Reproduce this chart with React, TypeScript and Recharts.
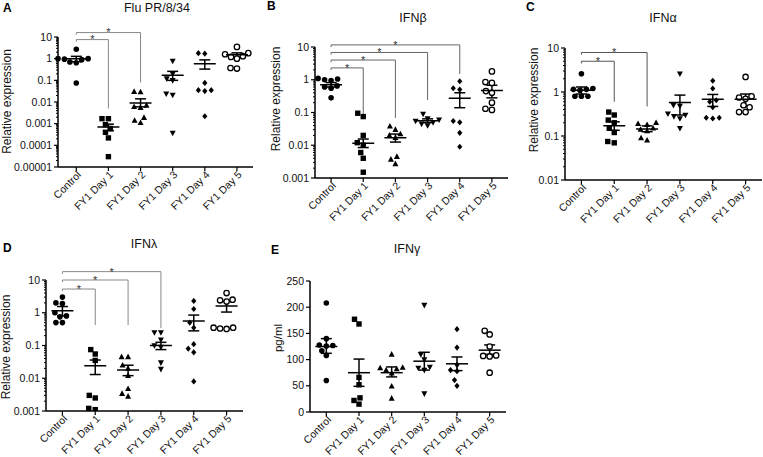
import React from "react";
import { ErrorBar, ReferenceLine, Scatter, ScatterChart, XAxis, YAxis } from "recharts";

const GROUPS = ["Control", "FY1 Day 1", "FY1 Day 2", "FY1 Day 3", "FY1 Day 4", "FY1 Day 5"];
const MARKERS = ["dot", "square", "triangle", "triangleDown", "diamond", "ring"];

// A - Flu PR/8/34, relative expression (log axis)
const FLU_POINTS = [
  [2.7, 1.0, 0.9, 1.0, 0.95, 0.65, 0.7, 0.075],
  [0.0017, 0.0017, 0.0009, 0.0006, 0.0004, 0.00022, 0.00003],
  [0.029, 0.03, 0.0055, 0.007, 0.006, 0.0011, 0.0019, 0.0014],
  [0.78, 0.2, 0.12, 0.1, 0.021, 0.024, 0.00037],
  [1.8, 1.7, 0.076, 0.032, 0.035, 0.035, 0.0022],
  [3.5, 1.8, 1.6, 1.3, 1.2, 1.0, 0.35, 0.37],
];
const FLU_MEAN = [1.0, 0.0007, 0.009, 0.17, 0.58, 1.5];
const FLU_LO = [0.72, 0.00047, 0.006, 0.1, 0.33, 1.15];
const FLU_HI = [1.28, 0.00095, 0.014, 0.26, 0.88, 1.85];
const FLU_TICKS = [0.00001, 0.0001, 0.001, 0.01, 0.1, 1, 10];
const FLU_TICK_LABELS = ["0.00001", "0.0001", "0.001", "0.01", "0.1", "1", "10"];
const FLU_SIG = [
  { to: 1, y: 7.6, end: 0.005 },
  { to: 2, y: 16, end: 0.08 },
];

// B - IFNβ
const IFNB_POINTS = [
  [1.1, 1.0, 1.05, 0.95, 0.6, 0.55, 0.65, 0.28],
  [0.095, 0.075, 0.02, 0.012, 0.01, 0.006, 0.004, 0.0015],
  [0.038, 0.03, 0.022, 0.02, 0.017, 0.0045, 0.0037, 0.0027],
  [0.09, 0.065, 0.06, 0.055, 0.05, 0.045, 0.04],
  [0.9, 0.5, 0.55, 0.05, 0.055, 0.024, 0.009],
  [1.8, 0.85, 0.8, 0.45, 0.4, 0.2, 0.13, 0.12],
];
const IFNB_MEAN = [0.7, 0.0115, 0.017, 0.056, 0.27, 0.47];
const IFNB_LO = [0.6, 0.0085, 0.0125, 0.049, 0.14, 0.28];
const IFNB_HI = [0.82, 0.0155, 0.022, 0.064, 0.4, 0.68];
const IFNB_TICKS = [0.001, 0.01, 0.1, 1, 10];
const IFNB_TICK_LABELS = ["0.001", "0.01", "0.1", "1", "10"];
const IFNB_SIG = [
  { to: 1, y: 2.3, end: 0.068 },
  { to: 2, y: 4, end: 0.068 },
  { to: 3, y: 6.8, end: 0.24 },
  { to: 4, y: 11.6, end: 1.5 },
];

// C - IFNα
const IFNA_POINTS = [
  [2.6, 1.15, 1.1, 1.15, 1.2, 0.8, 0.8, 0.8],
  [0.35, 0.3, 0.23, 0.2, 0.15, 0.12, 0.07, 0.075],
  [0.2, 0.19, 0.18, 0.15, 0.14, 0.13, 0.09, 0.08],
  [2.6, 0.5, 0.48, 0.3, 0.28, 0.32, 0.25, 0.15],
  [1.8, 1.2, 0.65, 0.6, 0.45, 0.26, 0.25, 0.26],
  [2.2, 0.8, 0.7, 0.75, 0.45, 0.5, 0.35, 0.35],
];
const IFNA_MEAN = [1.1, 0.17, 0.145, 0.58, 0.68, 0.68];
const IFNA_LO = [0.9, 0.135, 0.125, 0.3, 0.47, 0.48];
const IFNA_HI = [1.3, 0.21, 0.17, 0.85, 0.88, 0.9];
const IFNA_TICKS = [0.01, 0.1, 1, 10];
const IFNA_TICK_LABELS = ["0.01", "0.1", "1", "10"];
const IFNA_SIG = [
  { to: 1, y: 5, end: 0.6 },
  { to: 2, y: 7.9, end: 0.47 },
];

// D - IFNλ
const IFNL_POINTS = [
  [3.0, 2.0, 1.9, 1.0, 0.8, 0.75, 0.5, 0.5],
  [0.075, 0.055, 0.035, 0.0025, 0.003, 0.0011, 0.0012],
  [0.045, 0.045, 0.025, 0.02, 0.012, 0.0048, 0.0028, 0.0034],
  [0.25, 0.25, 0.15, 0.1, 0.09, 0.03, 0.019],
  [2.3, 1.3, 0.5, 0.35, 0.11, 0.08, 0.062, 0.008],
  [4.0, 2.5, 2.2, 2.4, 0.35, 0.32, 0.33, 0.35],
];
const IFNL_MEAN = [1.15, 0.024, 0.018, 0.1, 0.56, 1.6];
const IFNL_LO = [0.8, 0.013, 0.012, 0.075, 0.28, 1.05];
const IFNL_HI = [1.55, 0.036, 0.025, 0.125, 0.85, 2.2];
const IFNL_TICKS = [0.001, 0.01, 0.1, 1, 10];
const IFNL_TICK_LABELS = ["0.001", "0.01", "0.1", "1", "10"];
const IFNL_SIG = [
  { to: 1, y: 5.3, end: 0.42 },
  { to: 2, y: 10, end: 0.42 },
  { to: 3, y: 18, end: 0.34 },
];

// E - IFNγ, pg/ml (linear axis)
const IFNG_POINTS = [
  [208, 140, 128, 127, 126, 117, 108, 60],
  [168, 177, 66, 52, 27, 15, 22],
  [110, 84, 85, 82, 80, 74, 49, 26],
  [204, 110, 100, 86, 84, 80, 35],
  [158, 123, 90, 80, 78, 61, 50],
  [148, 155, 125, 107, 108, 106, 75],
];
const IFNG_MEAN = [125, 75, 75, 97, 92, 118];
const IFNG_LO = [112, 49, 67, 80, 79, 110];
const IFNG_HI = [140, 101, 86, 114, 105, 128];
const IFNG_TICKS = [0, 50, 100, 150, 200, 250];
const IFNG_TICK_LABELS = ["0", "50", "100", "150", "200", "250"];

const FONT = "'Liberation Sans', Arial, sans-serif";
const X_HEIGHT = 40;
const SWARM_GAP = 6.2;

function Marker({ kind, cx, cy }: { kind: string; cx: number; cy: number }) {
  switch (kind) {
    case "square":
      return <rect x={cx - 2.7} y={cy - 2.7} width={5.4} height={5.4} fill="#000" />;
    case "triangle":
      return <path d={`M${cx},${cy - 3.3}L${cx + 3},${cy + 2.3}L${cx - 3},${cy + 2.3}Z`} fill="#000" />;
    case "triangleDown":
      return <path d={`M${cx},${cy + 3.3}L${cx + 3},${cy - 2.3}L${cx - 3},${cy - 2.3}Z`} fill="#000" />;
    case "diamond":
      return <path d={`M${cx},${cy - 3.1}L${cx + 2.6},${cy}L${cx},${cy + 3.1}L${cx - 2.6},${cy}Z`} fill="#000" />;
    case "ring":
      return <circle cx={cx} cy={cy} r={2.7} fill="#fff" stroke="#000" strokeWidth={1.3} />;
    default:
      return <circle cx={cx} cy={cy} r={2.8} fill="#000" />;
  }
}

// simple beeswarm: px offsets for points at pixel heights px
function swarm(px: number[]): number[] {
  const order = px.map((_, i) => i).sort((a, b) => px[a] - px[b]);
  const placed: { x: number; y: number }[] = [];
  const out = new Array(px.length).fill(0);
  for (const i of order) {
    let best = 0;
    for (let k = 0; k < 120; k++) {
      const cand = (k % 2 ? -1 : 1) * Math.ceil(k / 2) * 0.5;
      if (placed.every((p) => (p.x - cand) ** 2 + (p.y - px[i]) ** 2 >= SWARM_GAP ** 2)) {
        best = cand;
        break;
      }
    }
    placed.push({ x: best, y: px[i] });
    out[i] = best;
  }
  return out;
}

function minorTicks(major: number[]) {
  const out: number[] = [];
  for (let i = 0; i < major.length - 1; i++) for (let k = 2; k <= 9; k++) out.push(major[i] * k);
  return out;
}

interface PanelProps {
  left: number;
  top: number;
  width: number;
  height: number;
  margin: { top: number; right: number; bottom: number; left: number };
  yWidth: number;
  log: boolean;
  ticks: number[];
  tickLabels: string[];
  points: number[][];
  mean: number[];
  lo: number[];
  hi: number[];
  sig?: { to: number; y: number; end: number }[];
  stub?: number;
  sigColor?: string;
}

function Panel(p: PanelProps) {
  const domain: [number, number] = [p.ticks[0], p.ticks[p.ticks.length - 1]];
  const plotW = p.width - p.margin.left - p.margin.right - p.yWidth;
  const plotH = p.height - p.margin.top - p.margin.bottom - X_HEIGHT;
  const toPx = p.log
    ? (v: number) =>
        ((Math.log10(v) - Math.log10(domain[0])) / (Math.log10(domain[1]) - Math.log10(domain[0]))) * plotH
    : (v: number) => ((v - domain[0]) / (domain[1] - domain[0])) * plotH;
  const pxPerCat = plotW / 6;

  const series = p.points.map((vals, g) => {
    const offs = swarm(vals.map(toPx));
    return vals.map((v, i) => ({ x: g + offs[i] / pxPerCat, y: v }));
  });
  const meanData = p.mean.map((m, g) => ({ x: g, y: m, err: [m - p.lo[g], p.hi[g] - m] }));
  const yTicks = p.log ? [...p.ticks, ...minorTicks(p.ticks)] : p.ticks;

  const YTick = (t: any) => {
    const ax = t.x + 6;
    const v = t.payload.value;
    const idx = p.ticks.findIndex((m) => Math.abs(m - v) <= Math.abs(m) * 1e-6 + 1e-12);
    if (idx < 0) {
      return <line x1={ax - 2} x2={ax} y1={t.y} y2={t.y} stroke="#000" strokeWidth={1} />;
    }
    return (
      <g>
        <line x1={ax - 4} x2={ax} y1={t.y} y2={t.y} stroke="#000" strokeWidth={1.2} />
        <text x={ax - 6} y={t.y} dy="0.35em" textAnchor="end" fontSize={10.5} fill="#111" fontFamily={FONT}>
          {p.tickLabels[idx]}
        </text>
      </g>
    );
  };

  const XTick = (t: any) => (
    <g transform={`translate(${t.x + 1},${t.y - 2}) rotate(-45)`} opacity={0.99}>
      <text x={0} y={0} dy="0.6em" textAnchor="end" fontSize={10.5} fill="#111" fontFamily={FONT}>
        {GROUPS[t.payload.value]}
      </text>
    </g>
  );

  const sigColor = p.sigColor || "#666";

  return (
    <div style={{ position: "absolute", left: p.left, top: p.top }}>
      <ScatterChart width={p.width} height={p.height} margin={p.margin}>
        <XAxis
          type="number"
          dataKey="x"
          domain={[-0.5, 5.5]}
          ticks={[0, 1, 2, 3, 4, 5]}
          interval={0}
          height={X_HEIGHT}
          axisLine={{ stroke: "#000", strokeWidth: 1.5 }}
          tickLine={{ stroke: "#000", strokeWidth: 1.2 }}
          tickSize={4}
          tick={XTick}
        />
        <YAxis
          type="number"
          dataKey="y"
          scale={p.log ? "log" : "linear"}
          domain={domain}
          allowDataOverflow
          ticks={yTicks}
          interval={0}
          width={p.yWidth}
          axisLine={{ stroke: "#000", strokeWidth: 1.5 }}
          tickLine={false}
          tickSize={4}
          tick={YTick}
        />
        {(p.sig || []).map((b, i) => (
          <ReferenceLine
            key={`h${i}`}
            segment={[
              { x: 0, y: b.y },
              { x: b.to, y: b.y },
            ]}
            stroke={sigColor}
            strokeWidth={1}
            ifOverflow="visible"
            label={{ value: "*", position: "center", fontSize: 11, fill: "#333" }}
          />
        ))}
        {(p.sig || []).map((b, i) => (
          <ReferenceLine
            key={`v${i}`}
            segment={[
              { x: b.to, y: b.y },
              { x: b.to, y: b.end },
            ]}
            stroke={sigColor}
            strokeWidth={1}
            ifOverflow="visible"
          />
        ))}
        {(p.sig || []).map((b, i) => (
          <ReferenceLine
            key={`s${i}`}
            segment={[
              { x: 0, y: b.y },
              { x: 0, y: b.y * (p.stub || 0.85) },
            ]}
            stroke={sigColor}
            strokeWidth={1}
            ifOverflow="visible"
          />
        ))}
        {series.map((data, g) => (
          <Scatter
            key={GROUPS[g]}
            name={GROUPS[g]}
            data={data}
            isAnimationActive={false}
            shape={(s: any) => <Marker kind={MARKERS[g]} cx={s.cx} cy={s.cy} />}
          />
        ))}
        <Scatter
          name="mean"
          data={meanData}
          isAnimationActive={false}
          shape={(s: any) => (
            <line x1={s.cx - 11} x2={s.cx + 11} y1={s.cy} y2={s.cy} stroke="#000" strokeWidth={1.5} />
          )}
        >
          <ErrorBar dataKey="err" direction="y" width={5.5} stroke="#000" strokeWidth={1.5} />
        </Scatter>
      </ScatterChart>
    </div>
  );
}

const TITLES = [
  { text: "Flu PR/8/34", x: 157, y: 12 },
  { text: "IFNβ", x: 413, y: 21.5 },
  { text: "IFNα", x: 663, y: 21.5 },
  { text: "IFNλ", x: 144, y: 248 },
  { text: "IFNγ", x: 407, y: 253 },
];
const LETTERS = [
  { text: "A", x: 3, y: 11.7 },
  { text: "B", x: 267, y: 10 },
  { text: "C", x: 526, y: 11 },
  { text: "D", x: 3, y: 252.3 },
  { text: "E", x: 271, y: 254 },
];
const Y_LABELS = [
  { text: "Relative expression", x: 10.5, y: 101.5 },
  { text: "Relative expression", x: 279.5, y: 99 },
  { text: "Relative expression", x: 538, y: 100 },
  { text: "Relative expression", x: 10.3, y: 347 },
  { text: "pg/ml", x: 282, y: 338 },
];

export default function App() {
  return (
    <div
      style={{
        position: "absolute",
        left: 0,
        top: 0,
        width: 763,
        height: 457,
        background: "#fff",
        fontFamily: FONT,
        overflow: "hidden",
      }}
    >
      <Panel
        left={0}
        top={0}
        width={260}
        height={228}
        margin={{ top: 37, right: 7, bottom: 21, left: 8 }}
        yWidth={50}
        log
        ticks={FLU_TICKS}
        tickLabels={FLU_TICK_LABELS}
        points={FLU_POINTS}
        mean={FLU_MEAN}
        lo={FLU_LO}
        hi={FLU_HI}
        sig={FLU_SIG}
        stub={0.8}
        sigColor="#888"
      />
      <Panel
        left={265}
        top={0}
        width={250}
        height={228}
        margin={{ top: 47, right: 7, bottom: 10, left: 0 }}
        yWidth={50}
        log
        ticks={IFNB_TICKS}
        tickLabels={IFNB_TICK_LABELS}
        points={IFNB_POINTS}
        mean={IFNB_MEAN}
        lo={IFNB_LO}
        hi={IFNB_HI}
        sig={IFNB_SIG}
        stub={0.86}
      />
      <Panel
        left={515}
        top={0}
        width={248}
        height={228}
        margin={{ top: 48, right: 1, bottom: 8, left: 0 }}
        yWidth={50}
        log
        ticks={IFNA_TICKS}
        tickLabels={IFNA_TICK_LABELS}
        points={IFNA_POINTS}
        mean={IFNA_MEAN}
        lo={IFNA_LO}
        hi={IFNA_HI}
        sig={IFNA_SIG}
        stub={0.89}
        sigColor="#555"
      />
      <Panel
        left={0}
        top={228}
        width={250}
        height={229}
        margin={{ top: 52, right: 7, bottom: 6, left: 0 }}
        yWidth={46}
        log
        ticks={IFNL_TICKS}
        tickLabels={IFNL_TICK_LABELS}
        points={IFNL_POINTS}
        mean={IFNL_MEAN}
        lo={IFNL_LO}
        hi={IFNL_HI}
        sig={IFNL_SIG}
        stub={0.86}
        sigColor="#888"
      />
      <Panel
        left={260}
        top={228}
        width={250}
        height={229}
        margin={{ top: 53, right: 4, bottom: 5, left: 0 }}
        yWidth={50}
        log={false}
        ticks={IFNG_TICKS}
        tickLabels={IFNG_TICK_LABELS}
        points={IFNG_POINTS}
        mean={IFNG_MEAN}
        lo={IFNG_LO}
        hi={IFNG_HI}
      />
      <svg
        width={763}
        height={457}
        style={{ position: "absolute", left: 0, top: 0, pointerEvents: "none" }}
        fontFamily={FONT}
      >
        {TITLES.map((t) => (
          <text key={t.text} x={t.x} y={t.y} textAnchor="middle" fontSize={12.5} fill="#111">
            {t.text}
          </text>
        ))}
        {LETTERS.map((t) => (
          <text key={t.text} x={t.x} y={t.y} fontSize={12} fontWeight="bold" fill="#000">
            {t.text}
          </text>
        ))}
        {Y_LABELS.map((t, i) => (
          <text
            key={i}
            x={t.x}
            y={t.y}
            textAnchor="middle"
            fontSize={t.text === "pg/ml" ? 11.5 : 12}
            fill="#111"
            transform={`rotate(-90 ${t.x} ${t.y})`}
          >
            {t.text}
          </text>
        ))}
      </svg>
    </div>
  );
}
